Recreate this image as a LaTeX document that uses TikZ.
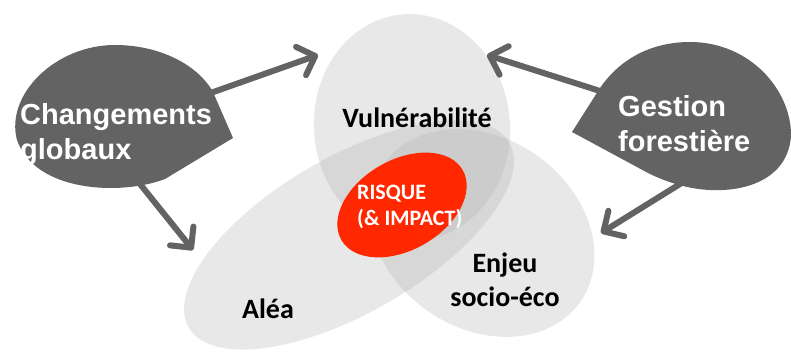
\documentclass[tikz,border=0pt]{standalone}
\usepackage{fontspec}
\usetikzlibrary{arrows.meta,shapes.geometric}
\newfontfamily\labfont{Carlito}
\newfontfamily\dropfont{Liberation Sans}
\definecolor{dropgray}{RGB}{99,99,99}
\definecolor{setgray}{RGB}{179,179,179}
\definecolor{risqred}{RGB}{255,40,0}
\tikzset{
  setell/.style={ellipse, inner sep=0pt, fill=setgray, fill opacity=0.3, draw=none},
  droparrow/.style={draw=dropgray, line width=6pt, line cap=round,
    -{Straight Barb[length=15pt,width=30pt,round]}},
  droptext/.style={text=white, font=\dropfont\bfseries\fontsize{29}{35}\selectfont, align=left, inner sep=0pt},
  lab/.style={text=black, font=\labfont\bfseries\fontsize{28}{34}\selectfont, align=center, inner sep=0pt},
  risq/.style={text=white, font=\labfont\bfseries\fontsize{22}{26}\selectfont, align=left, inner sep=0pt}
}
\begin{document}
\begin{tikzpicture}[x=1pt,y=-1pt]
\useasboundingbox (0,0) rectangle (791,352);
\fill[white] (0,0) rectangle (791,352);
% sets
\node[setell, minimum width=370pt, minimum height=156pt, rotate=30] (alea) at (349,235) {};
\node[setell, minimum width=196pt, minimum height=226pt, rotate=5] (vuln) at (412,127) {};
\node[setell, minimum width=240pt, minimum height=190pt, rotate=-35] (enjeu) at (482,233) {};
\node[ellipse, inner sep=0pt, fill=risqred, minimum width=140pt, minimum height=90pt, rotate=30] (risque) at (402,205) {};
% drops
\fill[dropgray] (233,138) -- (165,179) .. controls (120,196) and (35,192) .. (17,140)
  .. controls (5,95) and (55,45) .. (115,45) .. controls (160,45) and (198,65) .. (213,92) -- cycle;
\fill[dropgray] (572,132) -- (600,88) .. controls (622,56) and (655,42) .. (690,42)
  .. controls (750,42) and (791,90) .. (791,135) .. controls (789,175) and (752,192) .. (710,190)
  .. controls (685,189) and (662,180) .. (648,173) -- cycle;
% texts
\node[droptext, anchor=base west] (chg) at (20,160) {Changements\\globaux};
\node[droptext, anchor=base west] (ges) at (618,152) {Gestion\\forestière};
\node[lab, anchor=base] (tvuln) at (417,128) {Vulnérabilité};
\node[lab, anchor=base] (talea) at (268,318) {Aléa};
\node[lab, anchor=base] (tenjeu) at (505,306) {Enjeu\\socio-éco};
\node[risq, anchor=base west] (trisq) at (357,226) {RISQUE\\(\& IMPACT)};
% arrows
\coordinate (c1s) at (205,95);  \coordinate (c1e) at (318,55);
\coordinate (c2s) at (140,184); \coordinate (c2e) at (193,250);
\coordinate (g1s) at (600,91);  \coordinate (g1e) at (487,55);
\coordinate (g2s) at (680,184); \coordinate (g2e) at (601,233);
\draw[droparrow] (c1s) -- (c1e);
\draw[droparrow] (c2s) -- (c2e);
\draw[droparrow] (g1s) -- (g1e);
\draw[droparrow] (g2s) -- (g2e);
\end{tikzpicture}
\end{document}
